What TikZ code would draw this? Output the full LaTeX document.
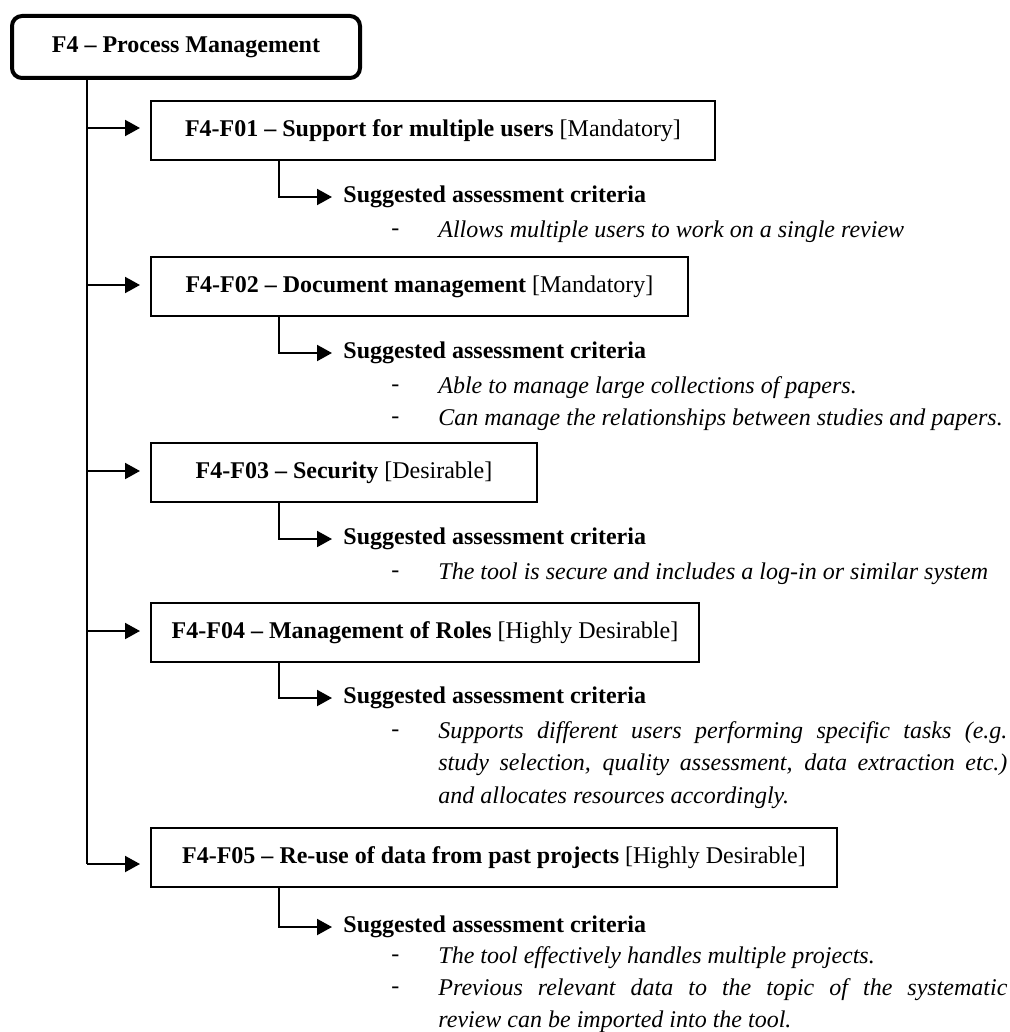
\documentclass[tikz,border=0pt]{standalone}
\usepackage{fontspec}
\setmainfont{Liberation Serif}
\usetikzlibrary{arrows.meta}
\newcommand{\dgmfont}{\fontsize{12pt}{15pt}\selectfont}
\newcommand{\jline}[1]{\makebox[284.5pt][s]{#1}}
\begin{document}
\begin{tikzpicture}[x=0.5pt,y=-0.5pt,
  wire/.style={line width=1pt},
  tip/.style={wire,-{Triangle[length=7.5pt,width=8pt]}},
  headbox/.style={draw,line width=2pt,rounded corners=5pt,anchor=north west,
    minimum width=174pt,minimum height=31pt,inner sep=0pt,font=\dgmfont\bfseries},
  featbox/.style={draw,line width=1pt,anchor=north west,minimum height=29.5pt,
    inner sep=0pt,font=\dgmfont},
  crit/.style={anchor=west,inner sep=0pt,font=\dgmfont\bfseries},
  dashmark/.style={anchor=west,inner sep=0pt,font=\dgmfont},
  item/.style={anchor=west,inner sep=0pt,font=\dgmfont\itshape},
]
\useasboundingbox (0,0) rectangle (1009,1032);

% main heading
\node[headbox] (top) at (10,14) {F4 -- Process Management};

% feature boxes
\node[featbox,minimum width=282pt]   (f1) at (150,100) {\textbf{F4-F01 -- Support for multiple users} [Mandatory]};
\node[featbox,minimum width=268.5pt] (f2) at (150,256) {\textbf{F4-F02 -- Document management} [Mandatory]};
\node[featbox,minimum width=193pt]   (f3) at (150,442) {\textbf{F4-F03 -- Security} [Desirable]};
\node[featbox,minimum width=274pt]   (f4) at (150,602) {\textbf{F4-F04 -- Management of Roles} [Highly Desirable]};
\node[featbox,minimum width=343pt]   (f5) at (150,827) {\textbf{F4-F05 -- Re-use of data from past projects} [Highly Desirable]};

% trunk and branch arrows
\coordinate (trunk) at (87,0);
\coordinate (a1) at (87,128);
\coordinate (a2) at (87,285);
\coordinate (a3) at (87,471);
\coordinate (a4) at (87,631);
\coordinate (a5) at (87,864);
\draw[wire] (top.south -| trunk) -- (a5);
\foreach \i in {1,...,5}
  \draw[tip,shorten >=5pt] (a\i) -- (a\i -| f\i.west);

% assessment criteria headings
\node[crit] (c1) at (343,197) {Suggested assessment criteria};
\node[crit] (c2) at (343,353) {Suggested assessment criteria};
\node[crit] (c3) at (343,539) {Suggested assessment criteria};
\node[crit] (c4) at (343,698) {Suggested assessment criteria};
\node[crit] (c5) at (343,927) {Suggested assessment criteria};

\coordinate (sub) at (279,0);
\foreach \i in {1,...,5}
  \draw[tip,shorten >=5.5pt] (f\i.south -| sub) |- (c\i.west);

% criteria items
\node[dashmark] (d1) at (391,232) {-};
\node[item] (t1) at (438,232) {Allows multiple users to work on a single review};

\node[dashmark] (d2a) at (391,388) {-};
\node[item] (t2a) at (438,388) {Able to manage large collections of papers.};
\node[dashmark] (d2b) at (391,420) {-};
\node[item] (t2b) at (438,420) {Can manage the relationships between studies and papers.};

\node[dashmark] (d3) at (391,574) {-};
\node[item] (t3) at (438,574) {The tool is secure and includes a log-in or similar system};

\node[dashmark] (d4) at (391,733) {-};
\node[item] (t4a) at (438,733) {\jline{Supports different users performing specific tasks (e.g.}};
\node[item] (t4b) at (438,765) {\jline{study selection, quality assessment, data extraction etc.)}};
\node[item] (t4c) at (438,798) {and allocates resources accordingly.};

\node[dashmark] (d5a) at (391,958) {-};
\node[item] (t5a) at (438,958) {The tool effectively handles multiple projects.};
\node[dashmark] (d5b) at (391,990) {-};
\node[item] (t5b) at (438,990) {\jline{Previous relevant data to the topic of the systematic}};
\node[item] (t5c) at (438,1022) {review can be imported into the tool.};
\end{tikzpicture}
\end{document}
